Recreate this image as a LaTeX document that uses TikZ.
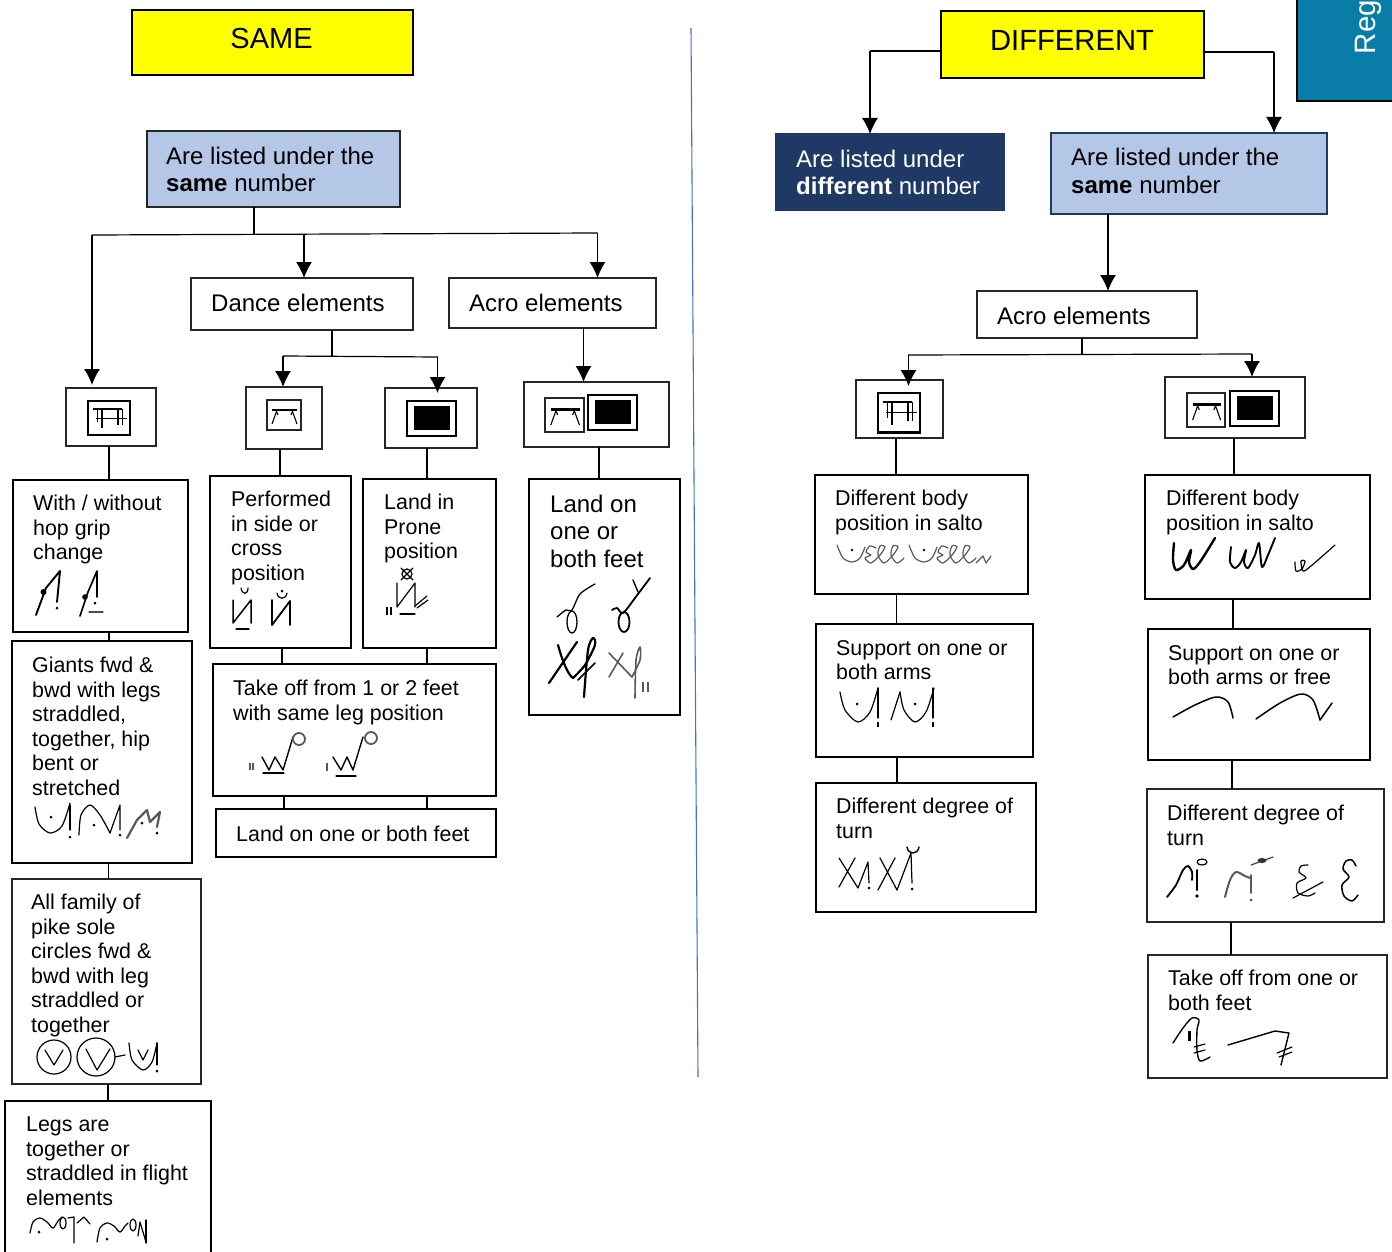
\documentclass[tikz,border=0pt]{standalone}
\usepackage{fontspec}
\setmainfont{Liberation Sans}
\usetikzlibrary{arrows.meta}
\definecolor{topyellow}{RGB}{255,255,0}
\definecolor{lightblue}{HTML}{B4C7E7}
\definecolor{darkblue}{HTML}{1F3864}
\definecolor{regblue}{HTML}{0A7CA8}
\definecolor{midline}{HTML}{4472C4}
\tikzset{
	boxthin/.style={draw=black!85,line width=1.2pt,inner sep=0,outer sep=0},
	boxthick/.style={draw=black,line width=1.9pt,inner sep=0,outer sep=0},
	lbl/.style={anchor=north west,inner sep=0,yshift=-1.5pt,align=left,font=\fontsize{21.4}{24.5}\selectfont,execute at begin node=\strut},
	lblbig/.style={anchor=north west,inner sep=0,align=left,font=\fontsize{24}{27}\selectfont,execute at begin node=\strut},
	lnk/.style={draw=black,line width=1.2pt},
	arr/.style={lnk,-{Latex[length=16pt,width=16pt]}},
	sym/.style={line width=1.2pt,line cap=round,line join=round},
	symthick/.style={sym,line width=2.4pt},
	symgrey/.style={sym,line width=1.4pt,draw=black!65}
}
\def\flowbox[#1](#2)(#3,#4)(#5,#6){\node[#1,anchor=north west,minimum width={(#5-#3)*1pt},minimum height={(#6-#4)*1pt}] (#2) at (#3,#4) {};}
\def\sdot(#1,#2){\fill (#1,#2) circle (1.5);}
\def\benchhigh[#1](#2,#3){\begin{scope}[shift={(#2,#3)},#1]
	\draw[line width=2.6pt] (0,0) rectangle (42,34);
	\draw[line width=1.8pt] (5,8) -- (34,8);
	\draw[line width=0.9pt] (8,17) -- (39,17);
	\draw[line width=1.6pt] (14,8) -- (14,27) (30,8) -- (30,24);
	\draw[line width=0.8pt] (9,8) -- (9,21) (34,8) -- (34,24);
\end{scope}}
\def\benchlow[#1](#2,#3){\begin{scope}[shift={(#2,#3)},#1]
	\draw[line width=1.8pt,draw=black!85] (0,0) rectangle (34,30);
	\draw[line width=2.4pt] (5,10) -- (30,10);
	\draw[line width=1.1pt] (10,10) -- (5,24) (25,10) -- (30,24) (9,10) -- (11,15) (26,10) -- (24,15);
\end{scope}}
\def\matblack[#1](#2,#3){\begin{scope}[shift={(#2,#3)},#1]
	\draw[line width=2.2pt] (0,0) rectangle (49,35);
	\fill (7,5) rectangle (43,29);
\end{scope}}

\begin{document}
\begin{tikzpicture}[x=1pt,y=-1pt]
	\useasboundingbox (0,0) rectangle (1392,1252);
	%%%%% LEFT %%%%%
	\flowbox[boxthick,fill=topyellow](tSame)(132,10)(413,75)
	\node[font=\fontsize{29}{32}\selectfont] (tSameL) at (271.5,39) {SAME};
	\flowbox[boxthin,fill=lightblue](nSame)(147,131)(400,207)
	\node[lblbig] (nSameL) at (166,147) {Are listed under the\\\textbf{same} number};
	\flowbox[boxthin](fDance)(191,278)(413,330)
	\node[lblbig] (fDanceL) at (211,292) {Dance elements};
	\flowbox[boxthin](fAcro)(449,278)(656,328)
	\node[lblbig] (fAcroL) at (469,292) {Acro elements};

	\flowbox[boxthin](bHigh)(66,388)(156,446)
	\flowbox[boxthin](bLow)(246,387)(322,449)
	\flowbox[boxthin](bMat)(385,388)(477,448)
	\flowbox[boxthin](bBoth)(524,382)(669,447)
	\benchhigh[](88,401)
	\benchlow[](267,400)
	\matblack[](407,401)
	\benchlow[xscale=1.15,yscale=1.13](545,398)
	\matblack[](588,395)

	\coordinate (jTop) at (254,234);
	\coordinate (jTopL) at (92,235);
	\coordinate (jTopR) at (597.5,233);
	\draw[lnk] (nSame.south -| jTop) -- (jTop);
	\draw[lnk] (jTopL) -- (jTopR);
	\draw[arr] (jTopL) -- ([yshift=3pt]bHigh.north -| jTopL);
	\draw[arr] (304,234) -- (fDance.north -| 304,0);
	\draw[arr] (jTopR) -- (fAcro.north -| jTopR);

	\coordinate (jMid) at (332,356.5);
	\draw[lnk] (fDance.south -| jMid) -- (jMid);
	\draw[lnk] (283,356) -- (438,357);
	\draw[arr] (283,356) -- (bLow.north -| 283,0);
	\draw[arr] (437.5,357) -- ([yshift=-5pt]bMat.north -| 437.5,0);
	\draw[arr] (fAcro.south -| 583.5,0) -- (bBoth.north -| 583.5,0);

	\flowbox[boxthick](aHop)(13,480)(188,632)
	\node[lbl] (aHopL) at (33,493.5) {With / without\\hop grip\\change};
	\flowbox[boxthick](aGiant)(12,641)(192,863)
	\node[lbl] (aGiantL) at (32,655.5) {Giants fwd \&\\bwd with legs\\straddled,\\together, hip\\bent or\\stretched};
	\flowbox[boxthin](aPike)(12,879)(201,1084)
	\node[lbl] (aPikeL) at (31,892.5) {All family of\\pike sole\\circles fwd \&\\bwd with leg\\straddled or\\together};
	\flowbox[boxthick](aFlight)(5,1101)(211,1270)
	\node[lbl] (aFlightL) at (26,1115.5) {Legs are\\together or\\straddled in flight\\elements};
	\draw[lnk] (bHigh.south -| 109,0) -- (aHop.north -| 109,0);
	\draw[lnk] (aHop.south -| 109,0) -- (aGiant.north -| 109,0);
	\draw[lnk] (aGiant.south -| 108.5,0) -- (aPike.north -| 108.5,0);
	\draw[lnk] (aPike.south -| 108,0) -- (aFlight.north -| 108,0);

	\flowbox[boxthick](cSide)(210,476)(351,648)
	\node[lbl] (cSideL) at (231,489.5) {Performed\\in side or\\cross\\position};
	\flowbox[boxthick](cProne)(363,479)(496,648)
	\node[lbl] (cProneL) at (384,492.5) {Land in\\Prone\\position};
	\flowbox[boxthick](cTake)(213,664)(496,796)
	\node[lbl] (cTakeL) at (233,678.5) {Take off from 1 or 2 feet\\with same leg position};
	\flowbox[boxthick](cLand)(216,809)(496,857)
	\node[lbl] (cLandL) at (236,822.5) {Land on one or both feet};
	\flowbox[boxthick](dFeet)(529,479)(680,715)
	\node[lblbig,font=\fontsize{24}{27.5}\selectfont] (dFeetL) at (550,494.5) {Land on\\one or\\both feet};
	\draw[lnk] (bLow.south -| 280,0) -- (cSide.north -| 280,0);
	\draw[lnk] (bMat.south -| 427,0) -- (cProne.north -| 427,0);
	\draw[lnk] (bBoth.south -| 599,0) -- (dFeet.north -| 599,0);
	\draw[lnk] (cSide.south -| 282,0) -- (cTake.north -| 282,0);
	\draw[lnk] (cProne.south -| 427,0) -- (cTake.north -| 427,0);
	\draw[lnk] (cTake.south -| 284,0) -- (cLand.north -| 284,0);
	\draw[lnk] (cTake.south -| 427,0) -- (cLand.north -| 427,0);

	%%%%% notation, left %%%%%
	\draw[sym,line width=1.9pt] (36,615) -- (46,588) -- (60,571) -- (57,602);
	\fill (43.5,592) circle (3);
	\sdot(57,608)
	\draw[sym,line width=1.7pt] (80,616) -- (88,592) -- (97,571) -- (97,597);
	\fill (85,597) circle (2.8);
	\sdot(95,603)
	\draw[sym,black!70] (89,612) -- (103,612);

	\draw[sym] plot[smooth] coordinates {(35,807) (39,824) (50,833) (62,826) (70,803)};
	\draw[sym] (70,805) -- (70,830);
	\sdot(70,837) \sdot(51,817)
	\draw[sym] plot[smooth] coordinates {(79,835) (81,815) (90,805) (100,815) (110,833)};
	\draw[sym] (110,833) -- (120,805) -- (120,830);
	\sdot(120,835) \sdot(94,825)
	\draw[symgrey,line width=2.2pt] (127,838) -- (137,820) -- (147,810) -- (150,822) -- (160,812) -- (157,827);
	\sdot(142,823) \sdot(157,833)

	\draw[sym] (54,1057) circle (17);
	\draw[sym] (45,1050) -- (54,1065) -- (63,1050);
	\draw[sym] (96,1057) circle (19);
	\draw[sym] (86,1049) -- (97,1070) -- (110,1049);
	\draw[sym] (115,1057) -- (125,1055);
	\draw[sym] plot[smooth] coordinates {(129,1043) (132,1060) (143,1070) (152,1062) (157,1043)};
	\draw[sym] (138,1050) -- (143,1060) -- (148,1050);
	\draw[sym] (157,1043) -- (157,1065);
	\sdot(157,1071)

	\draw[sym] plot[smooth] coordinates {(30,1233) (33,1222) (40,1218) (47,1222) (53,1228) (58,1221) (62,1217)};
	\draw[sym] (63,1223) ellipse (3 and 6);
	\draw[sym] (68,1218) -- (74,1217) -- (74,1243);
	\draw[sym] (77,1223) -- (84,1217) -- (90,1224);
	\sdot(39,1232)
	\draw[sym] plot[smooth] coordinates {(97,1242) (100,1228) (107,1223) (114,1226) (120,1232) (125,1226) (128,1223)};
	\draw[sym] (133,1225) ellipse (3 and 6);
	\draw[sym] (138,1236) -- (140,1222) -- (146,1242);
	\draw[sym] (146,1220) -- (146,1243);
	\sdot(107,1239)

	\draw[sym,line width=1.5pt] (233,600) -- (233,623) -- (251,600) -- (251,623);
	\draw[sym] (236,629) -- (249,629);
	\draw[sym] (241,588) .. controls (242,595) and (248,595) .. (248,588);
	\draw[sym,line width=1.8pt] (272,600) -- (272,625) -- (290,601) -- (290,625);
	\draw[sym] (277,593) .. controls (278,600) and (286,600) .. (287,593);
	\sdot(282,591)

	\draw[sym] (407,574) circle (5);
	\draw[sym] (401,580) -- (413,568) (401,568) -- (413,580);
	\draw[sym] (397,583) -- (397,607) -- (415,583) -- (415,607);
	\draw[sym] (415,606) -- (427,596) (417,608) -- (428,600);
	\draw[sym] (400,614) -- (415,614);
	\draw[sym,line width=1.4pt,line cap=butt] (387,607) -- (387,615) (391,607) -- (391,615);

	\draw[symgrey,line cap=butt,line width=1.2pt] (250,763) -- (250,770) (253,763) -- (253,770);
	\draw[sym,line width=1.4pt] (262,757) -- (269,770) -- (275,757) -- (283,770) -- (293,737);
	\draw[symgrey,line width=1.8pt] (299,739) circle (6);
	\draw[sym] (263,773) -- (284,773);
	\draw[symgrey,line cap=butt,line width=1.2pt] (327,763) -- (327,771);
	\draw[sym,line width=1.4pt] (333,757) -- (341,770) -- (347,757) -- (353,770) -- (363,737);
	\draw[symgrey,line width=1.8pt] (371,738) circle (6);
	\draw[sym] (336,776) -- (356,776);

	\draw[sym,line width=1.3pt] plot[smooth] coordinates {(595,584) (580,594) (572,610) (566,610) (557,617)};
	\draw[sym,line width=1.3pt] (572,622) ellipse (5 and 11);
	\draw[sym,line width=1.8pt] plot[smooth] coordinates {(650,578) (635,598) (623,613) (617,608) (612,610)};
	\draw[sym,line width=1.8pt] (624,622) ellipse (5.5 and 10);
	\draw[sym,line width=1.4pt] (633,580) -- (638,592);
	\draw[sym,line width=2.2pt] (558,645) .. controls (562,660) and (568,675) .. (573,678);
	\draw[sym,line width=2.2pt] (549,683) -- (577,642);
	\draw[sym,line width=2.2pt] plot[smooth] coordinates {(573,678) (585,665) (595,645) (593,638) (588,650) (584,697)};
	\draw[sym,line width=1.6pt] (578,680) -- (595,663);
	\draw[symgrey,line width=1.6pt] (609,653) -- (632,677) (609,677) -- (623,653);
	\draw[symgrey,line width=1.6pt] plot[smooth] coordinates {(632,677) (640,660) (640,647) (636,660) (635,698)};
	\draw[symgrey,line cap=butt] (643,682) -- (643,692) (648,682) -- (648,692);

	%%%%% MIDDLE %%%%%
	\coordinate (mA) at (691,28);
	\coordinate (mB) at (698,1077);
	\draw[midline,line width=1.1pt] (mA) -- (mB);

	%%%%% RIGHT %%%%%
	\flowbox[draw=black,line width=2.4pt,inner sep=0,outer sep=0,fill=regblue](tReg)(1297,-10)(1402,101)
	\node[rotate=90,anchor=base west,inner sep=0,text=white,font=\fontsize{29.5}{32}\selectfont] (tRegL) at (1375,54.5) {Reg};
	\flowbox[boxthick,fill=topyellow](tDiff)(941,11)(1204,78)
	\node[font=\fontsize{29.2}{32}\selectfont] (tDiffL) at (1072,40) {DIFFERENT};
	\flowbox[draw=darkblue,line width=2pt,inner sep=0,outer sep=0,fill=darkblue](nDiff)(776,134)(1004,210)
	\node[lblbig,text=white] (nDiffL) at (796,149.5) {Are listed under\\\textbf{different} number};
	\flowbox[draw=darkblue,line width=2pt,inner sep=0,outer sep=0,fill=lightblue](nSameR)(1051,133)(1327,214)
	\node[lblbig,font=\fontsize{24}{28}\selectfont] (nSameRL) at (1071,147.5) {Are listed under the\\\textbf{same} number};
	\flowbox[boxthin](fAcroR)(977,291)(1197,338)
	\node[lblbig] (fAcroRL) at (997,305) {Acro elements};

	\coordinate (rL) at (870,51);
	\coordinate (rR) at (1274,52);
	\draw[lnk] (tDiff.west |- rL) -- (rL);
	\draw[arr] (rL) -- (nDiff.north -| rL);
	\draw[lnk] (tDiff.east |- rR) -- (rR);
	\draw[arr] (rR) -- (nSameR.north -| rR);
	\draw[arr] (nSameR.south -| 1108,0) -- (fAcroR.north -| 1108,0);

	\flowbox[boxthin](gHigh)(856,380)(943,438)
	\flowbox[boxthin](gBoth)(1165,377)(1305,438)
	\benchhigh[yscale=1.17](878,393)
	\benchlow[xscale=1.12,yscale=1.13](1187,393)
	\matblack[](1230,391)

	\coordinate (jR) at (1082,354.5);
	\draw[lnk] (fAcroR.south -| jR) -- (jR);
	\draw[lnk] (908,355) -- (1252,354);
	\draw[arr] (908.5,355) -- ([yshift=-6pt]gHigh.north -| 908.5,0);
	\draw[arr] (1252,354) -- (gBoth.north -| 1252,0);

	\flowbox[boxthick](pBody)(815,475)(1028,594)
	\node[lbl] (pBodyL) at (835,488.5) {Different body\\position in salto};
	\flowbox[boxthick](pArms)(816,624)(1033,757)
	\node[lbl] (pArmsL) at (836,638.5) {Support on one or\\both arms};
	\flowbox[boxthick](pTurn)(816,783)(1036,912)
	\node[lbl] (pTurnL) at (836,796.5) {Different degree of\\turn};
	\flowbox[boxthick](qBody)(1145,475)(1370,599)
	\node[lbl] (qBodyL) at (1166,488.5) {Different body\\position in salto};
	\flowbox[boxthick](qArms)(1148,629)(1370,760)
	\node[lbl] (qArmsL) at (1168,643.5) {Support on one or\\both arms or free};
	\flowbox[boxthin](qTurn)(1147,789)(1384,922)
	\node[lbl] (qTurnL) at (1167,803.5) {Different degree of\\turn};
	\flowbox[boxthin](qTake)(1148,955)(1387,1078)
	\node[lbl] (qTakeL) at (1168,968.5) {Take off from one or\\both feet};
	\draw[lnk] (gHigh.south -| 896,0) -- (pBody.north -| 896,0);
	\draw[lnk] (pBody.south -| 896.5,0) -- (pArms.north -| 896.5,0);
	\draw[lnk] (pArms.south -| 897,0) -- (pTurn.north -| 897,0);
	\draw[lnk] (gBoth.south -| 1234,0) -- (qBody.north -| 1234,0);
	\draw[lnk] (qBody.south -| 1233,0) -- (qArms.north -| 1233,0);
	\draw[lnk] (qArms.south -| 1232,0) -- (qTurn.north -| 1232,0);
	\draw[lnk] (qTurn.south -| 1231,0) -- (qTake.north -| 1231,0);

	%%%%% notation, right %%%%%
	\foreach \dx in {0,72}{
		\begin{scope}[xshift=\dx,symgrey,line width=1.2pt]
			\draw plot[smooth] coordinates {(837,545) (843,558) (852,562) (860,558) (865,547)};
			\fill (852,550) circle (1.3);
			\draw plot[smooth] coordinates {(876,548) (870,546) (866,552) (871,555) (865,558) (871,563) (880,555) (885,547) (880,546) (878,555) (884,563) (893,555) (898,547) (893,546) (891,555) (897,563) (904,558)};
		\end{scope}
	}
	\draw[symgrey,line width=1.2pt] (976,563) -- (983,556) -- (986,563) -- (991,556);

	\draw[symthick] plot[smooth] coordinates {(1174,543) (1173,560) (1176,570) (1184,565) (1191,550) (1189,562) (1193,569) (1200,562) (1215,538)};
	\draw[symthick,line width=1.9pt] plot[smooth] coordinates {(1231,547) (1230,562) (1235,568) (1241,562) (1246,550) (1244,562) (1248,568) (1255,555) (1259,543) (1262,567) (1268,555) (1275,538)};
	\draw[sym] plot[smooth] coordinates {(1295,562) (1296,571) (1302,569) (1305,561) (1301,561) (1303,571) (1311,566) (1335,545)};

	\draw[sym] plot[smooth] coordinates {(840,692) (845,710) (858,722) (870,712) (878,688)};
	\draw[sym] (878,688) -- (878,718);
	\draw[sym,line cap=butt] (878,722) -- (878,727);
	\fill (857,704) circle (1.5);
	\draw[sym] (891,720) -- (900,692);
	\draw[sym] plot[smooth] coordinates {(900,692) (904,710) (915,722) (926,712) (934,688)};
	\draw[sym] (933,688) -- (933,718);
	\draw[sym,line cap=butt] (933,722) -- (933,727);
	\fill (915,704) circle (1.5);

	\draw[sym,line width=1.5pt] plot[smooth] coordinates {(1173,717) (1195,705) (1216,697) (1228,702) (1233,718)};
	\draw[sym,line width=1.5pt] plot[smooth] coordinates {(1256,719) (1280,703) (1301,694) (1313,700) (1320,720)};
	\draw[sym,line width=1.5pt] (1320,720) -- (1332,703);

	\draw[sym] (839,858) -- (858,888) (839,887) -- (855,858) (858,888) -- (868,862) -- (869,883);
	\sdot(869,888)
	\draw[sym] (880,858) -- (897,890) (878,890) -- (895,858) (897,890) -- (911,853) -- (912,883);
	\sdot(912,889)
	\draw[sym,line width=1.4pt] (907,847) .. controls (908,855) and (918,855) .. (919,847);

	\draw[sym,line width=1.8pt] plot[smooth] coordinates {(1167,897) (1176,885) (1183,870) (1188,866) (1192,872) (1192,880)};
	\draw[sym,line width=2pt] (1197,870) -- (1197,890);
	\draw[sym] (1202,862) ellipse (5 and 3);
	\fill (1197,896) circle (1.8);
	\draw[symgrey,line width=2pt] plot[smooth] coordinates {(1225,897) (1230,880) (1236,872) (1245,876) (1250,878)};
	\draw[symgrey,line width=1.8pt] (1251,875) -- (1251,893);
	\fill[black!70] (1251,900) circle (1.5);
	\draw[sym,black!75] (1251,865) -- (1273,857);
	\fill[black!80] (1262,860.5) ellipse (4.5 and 2.5);
	\draw[sym] plot[smooth] coordinates {(1308,865) (1301,866) (1299,872) (1306,878) (1297,883) (1298,893) (1308,896) (1315,893)};
	\draw[sym] (1293,898) -- (1323,882);
	\draw[sym,line width=1.5pt] plot[smooth] coordinates {(1356,866) (1352,860) (1346,861) (1343,869) (1349,877) (1342,885) (1344,896) (1352,901) (1358,895)};

	\draw[sym,line width=1.4pt] plot[smooth] coordinates {(1173,1043) (1183,1028) (1192,1018) (1199,1020) (1197,1030) (1197,1050) (1200,1061) (1210,1057)};
	\fill (1188,1031) rectangle (1190.5,1041);
	\draw[sym] (1194,1047) -- (1205,1044) (1194,1053) -- (1205,1050);
	\draw[sym,line width=1.4pt] (1228,1045) -- (1275,1031) -- (1289,1033) -- (1281,1065);
	\draw[sym] (1277,1053) -- (1292,1047) (1279,1057) -- (1292,1052);
\end{tikzpicture}
\end{document}
